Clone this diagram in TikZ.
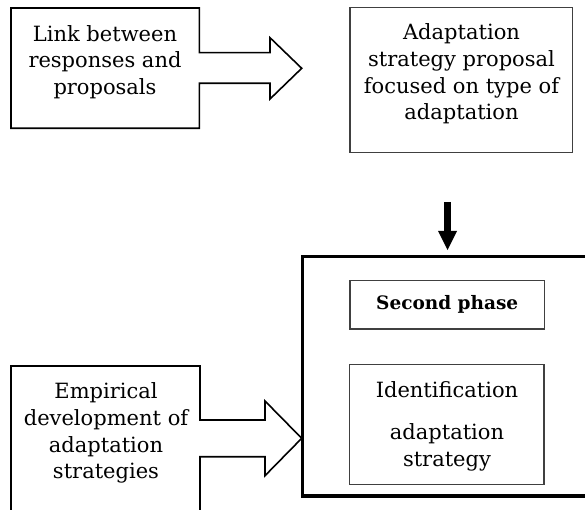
\documentclass[tikz,border=0pt]{standalone}
\usepackage{fontspec}
\setmainfont{DejaVu Serif}
\usetikzlibrary{arrows.meta}
\begin{document}
\begin{tikzpicture}[x=1pt,y=-1pt,
  txt/.style={font=\fontsize{21}{26.7}\selectfont, align=center, inner sep=0pt},
  boldtxt/.style={font=\fontsize{18.5}{22}\selectfont\bfseries, inner sep=0pt},
  blockarrow/.style={draw=black, line width=1.6pt, line join=miter},
  thinbox/.style={draw=black!75, line width=1.2pt, inner sep=0pt},
  outerbox/.style={draw=black, line width=3.6pt},
  downarrow/.style={draw=black, line width=7pt, -{Triangle[length=19pt,width=19pt,line width=0pt]}}
]
\useasboundingbox (0,0) rectangle (585,510);
\begin{scope}
\clip (0,0) rectangle (585,510);
% top-left box with block arrow
\draw[blockarrow] (11,8) -- (199.3,8) -- (199.3,52.7) -- (270,52.7) -- (270,37.7)
  -- (301.7,68.3) -- (270,99) -- (270,83.3) -- (199.3,83.3) -- (199.3,128.3) -- (11,128.3) -- cycle;
\node[txt] (link) at (105,62) {Link between\\responses and\\proposals};
% top-right box
\node[thinbox, minimum width=222.7pt, minimum height=145pt] (adaptbox) at (461.35,79.8) {};
\node[txt] (adapt) at (461.5,74) {Adaptation\\strategy proposal\\focused on type of\\adaptation};
% down arrow
\coordinate (dtop) at (447.5,202);
\coordinate (dtip) at (447.5,250);
\draw[downarrow] (dtop) -- (dtip);
% big outer box (right side beyond the picture)
\draw[outerbox] (302.5,256.5) -- (620,256.5) -- (620,496.2) -- (302.5,496.2) -- cycle;
% inner boxes
\node[thinbox, minimum width=194.5pt, minimum height=48.3pt] (phasebox) at (447.2,304.8) {};
\node[boldtxt, anchor=base] (phase) at (447.2,309.5) {Second phase};
\node[thinbox, minimum width=194.7pt, minimum height=120pt] (identbox) at (446.7,424.3) {};
\node[txt, anchor=base] (ident) at (447,397.5) {Identification};
\node[txt] (strat) at (447,447.5) {adaptation\\strategy};
% bottom-left box with block arrow
\draw[blockarrow] (11,366) -- (200,366) -- (200,420) -- (265,420) -- (265,401)
  -- (301.7,438.3) -- (265,475.7) -- (265,456.7) -- (200,456.7) -- (200,530) -- (11,530) -- cycle;
\node[txt] (empir) at (106,433) {Empirical\\development of\\adaptation\\strategies};
\end{scope}
\end{tikzpicture}
\end{document}
